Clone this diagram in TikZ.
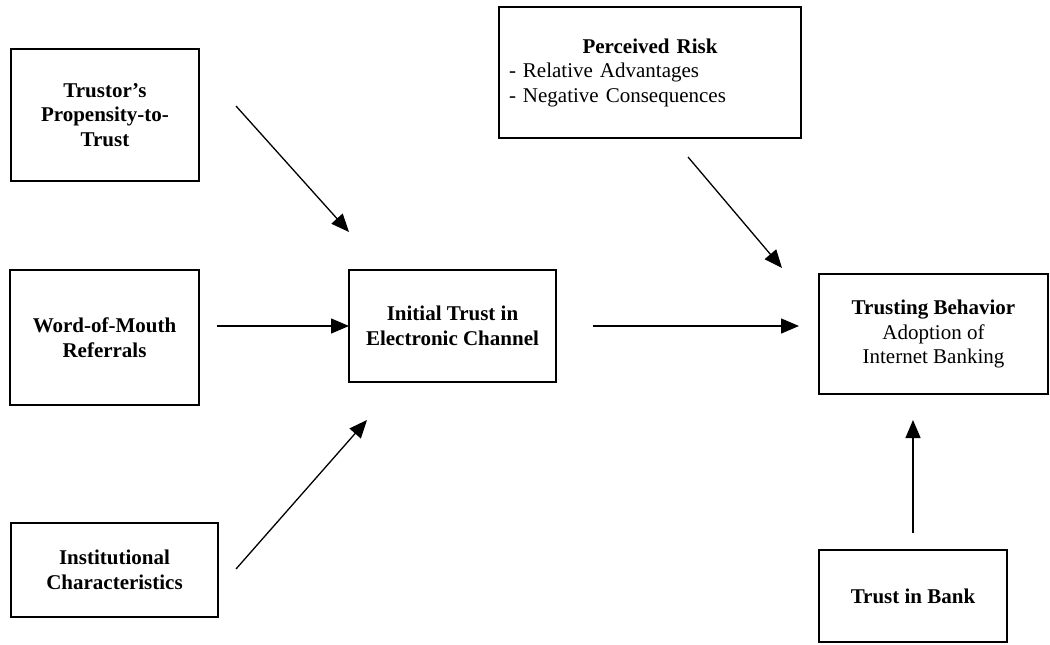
\documentclass[tikz,border=0pt]{standalone}
\usepackage{fontspec}
\setmainfont{Liberation Serif}
\usetikzlibrary{arrows.meta}
\tikzset{
  box/.style={draw, line width=1.5pt, rectangle, align=center, inner sep=0pt,
    font=\fontsize{21}{24.5}\selectfont},
  arr/.style={line width=1.3pt, -{Triangle[length=18pt,width=15pt]}}
}
\begin{document}
\begin{tikzpicture}[x=1pt,y=-1pt]
\useasboundingbox (0,0) rectangle (1050,645);
% boxes
\node[box, minimum width=188pt, minimum height=132pt] (trustor) at (105,115)
  {\textbf{Trustor’s}\\\textbf{Propensity-to-}\\\textbf{Trust}};
\node[box, minimum width=189pt, minimum height=135pt] (wom) at (104.5,337.5)
  {\textbf{Word-of-Mouth}\\\textbf{Referrals}};
\node[box, minimum width=207pt, minimum height=94pt] (inst) at (114.5,570)
  {\textbf{Institutional}\\\textbf{Characteristics}};
\node[box, minimum width=207pt, minimum height=112pt] (init) at (452.5,326)
  {\textbf{Initial Trust in}\\\textbf{Electronic Channel}};
\node[box, minimum width=302pt, minimum height=131pt, text width=282pt, align=left] (pr) at (650,72.5)
  {\makebox[\linewidth]{\textbf{Perceived Risk}}\\- Relative Advantages\\- Negative Consequences};
\node[box, minimum width=229pt, minimum height=120pt] (tb) at (933.5,334)
  {\textbf{Trusting Behavior}\\Adoption of\\Internet Banking};
\node[box, minimum width=188pt, minimum height=92pt] (bank) at (913,596)
  {\textbf{Trust in Bank}};
% connector ends
\coordinate (a1s) at (236,106);  \coordinate (a1e) at (349,232);
\coordinate (a2s) at (217,326);  \coordinate (a2e) at (349,326);
\coordinate (a3s) at (236,569);  \coordinate (a3e) at (367,420);
\coordinate (a4s) at (593,326);  \coordinate (a4e) at (799,326);
\coordinate (a5s) at (688,157);  \coordinate (a5e) at (782,268);
\coordinate (a6s) at (913,533);  \coordinate (a6e) at (913,420);
\draw[arr] (a1s) -- (a1e);
\draw[arr] (a2s) -- (a2e);
\draw[arr] (a3s) -- (a3e);
\draw[arr] (a4s) -- (a4e);
\draw[arr] (a5s) -- (a5e);
\draw[arr] (a6s) -- (a6e);
\end{tikzpicture}
\end{document}
